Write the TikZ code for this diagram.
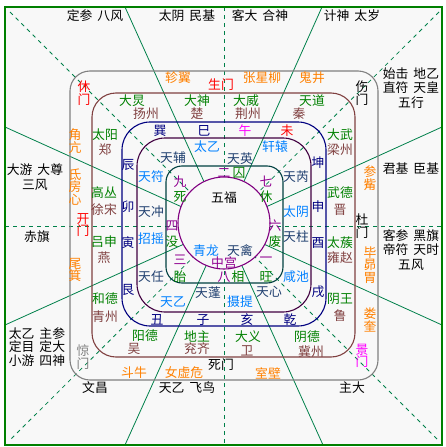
\documentclass[tikz,border=0pt]{standalone}
\usepackage{fontspec}
\setmainfont{Noto Sans CJK SC}
\definecolor{framegreen}{HTML}{008000}
\definecolor{raygreen}{HTML}{00804A}
\definecolor{ringgray}{HTML}{808080}
\definecolor{ringbrown}{HTML}{804040}
\definecolor{ringnavy}{HTML}{000080}
\definecolor{ringplum}{HTML}{400040}
\definecolor{ringteal}{HTML}{004040}
\definecolor{circplum}{HTML}{800080}
\definecolor{lodgeorange}{HTML}{FF8000}
\definecolor{godgreen}{HTML}{008000}
\definecolor{placebrown}{HTML}{804040}
\definecolor{stardark}{HTML}{1F3F6F}
\definecolor{starsky}{HTML}{0080FF}
\definecolor{numplum}{HTML}{900090}
\definecolor{gatemagenta}{HTML}{FF00FF}
\definecolor{gategray}{HTML}{808080}
\definecolor{bgpaper}{HTML}{F8F8F8}
\newcommand{\gap}{\hspace{5pt}}
\tikzset{
  ray/.style={raygreen, line width=0.8pt},
  axis/.style={raygreen, line width=0.8pt, dash pattern=on 4pt off 4pt},
  ring/.style={line width=1.1pt},
}
\begin{document}
\begin{tikzpicture}[x=1pt, y=-1pt,
    every node/.style={inner sep=0pt, font=\fontsize{12.8}{12.5}\selectfont, align=center}]
  \useasboundingbox (0,0) rectangle (445,447);
  \fill[white] (0,0) rectangle (445,447);
  \fill[bgpaper] (5,7) rectangle (442,445);
  % centre and frame points
  \coordinate (O) at (224,226);
  \coordinate (r1) at (125,7);
  \coordinate (r2) at (322,7);
  \coordinate (r3) at (442,127);
  \coordinate (r4) at (442,325);
  \coordinate (r5) at (323,445);
  \coordinate (r6) at (125,445);
  \coordinate (r7) at (5,325);
  \coordinate (r8) at (5,127);
  \coordinate (a1) at (224,7);
  \coordinate (a2) at (224,445);
  \coordinate (a3) at (5,226);
  \coordinate (a4) at (442,226);
  \coordinate (a5) at (10,12);
  \coordinate (a6) at (438,440);
  \coordinate (a7) at (439,12);
  \coordinate (a8) at (10,440);
  \foreach \e in {r1,r2,r3,r4,r5,r6,r7,r8}
    \draw[ray] (O) -- (\e);
  \foreach \s/\t in {a1/a2, a3/a4, a5/a6, a7/a8}
    \draw[axis] (\s) -- (\t);
  % rings
  \draw[ring, ringgray, rounded corners=20pt] (70,71) rectangle (378,380);
  \draw[ring, ringbrown, rounded corners=24pt] (92,93) rectangle (355,357);
  \draw[ring, ringnavy, rounded corners=28pt] (122,122) rectangle (326,326);
  \draw[ring, ringplum, rounded corners=28pt] (137,138) rectangle (311,312);
  \draw[ring, ringteal, rounded corners=16pt] (166,166) rectangle (283,283);
  \draw[ring, circplum, fill=bgpaper] (224,223) circle (46);
  \draw[framegreen, line width=2.5pt] (5,7) rectangle (442,445);
  % outer texts
  \foreach \nm/\x/\y/\t in {o1/95/16/{定参\gap{}八风}, o2/187/16/{太阴\gap{}民基},
      o3/260/16/{客大\gap{}合神}, o4/352/16/{计神\gap{}太岁},
      o5/411/88/{始击\gap{}地乙\\[2pt]直符\gap{}天皇\\[2pt]五行},
      o6/411/169/{君基\gap{}臣基},
      o7/411/250/{客参\gap{}黑旗\\[2pt]帝符\gap{}天时\\[2pt]五风},
      o8/352/388/{主大}, o9/187/388/{天乙\gap{}飞鸟}, o10/95/388/{文昌},
      o11/37/347/{太乙\gap{}主参\\[1pt]定目\gap{}定大\\[1pt]小游\gap{}四神},
      o12/37/237/{赤旗}, o13/35/177/{大游\gap{}大尊\\[2pt]三风}}
    \node (\nm) at (\x,\y) {\t};
  % gates
  \foreach \nm/\x/\y/\c/\t in {g1/84/93/red/{休\\门}, g2/221/85/red/{生门},
      g3/362/93/black/{伤\\门}, g4/362/226/black/{杜\\门},
      g5/362/356/gatemagenta/{景\\门}, g6/221/365/black/{死门},
      g7/83/357/gategray/{惊\\门}, g8/83/225/red/{开\\门}}
    \node[text=\c] (\nm) at (\x,\y) {\t};
  % lodges
  \foreach \nm/\x/\y/\t in {s1/178/78/{轸翼}, s2/262/78/{张星柳}, s3/312/78/{鬼井},
      s4/75/141/{角\\亢}, s5/75/187/{氐\\房\\心}, s6/75/270/{尾\\箕},
      s7/134/373/{斗牛}, s8/184/373/{女虚危}, s9/268/373/{室壁},
      s10/370/320/{娄\\奎}, s11/370/265/{毕\\昴\\胃}, s12/370/178/{参\\觜}}
    \node[text=lodgeorange] (\nm) at (\x,\y) {\t};
  % gods and lands
  \foreach \nm/\x/\y/\t in {d1/132/101/大炅, d2/197/101/大神, d3/246/101/大威,
      d4/312/101/天道, d5/340/135/大武, d6/340/193/武德, d7/340/243/太蔟,
      d8/340/299/阴王, d9/307/337/阴德, d10/248/337/大义, d11/197/336/地主,
      d12/145/336/阳德, d13/105/299/和德, d14/104/242/吕申, d15/104/193/高丛,
      d16/105/135/太阳}
    \node[text=godgreen] (\nm) at (\x,\y) {\t};
  \foreach \nm/\x/\y/\t in {p1/146/114/扬州, p2/197/114/楚, p3/248/114/荆州,
      p4/299/114/秦, p5/340/150/梁州, p6/340/210/晋, p7/340/258/雍赵,
      p8/340/316/鲁, p9/311/352/冀州, p10/247/351/卫, p11/197/349/兖齐,
      p12/134/349/吴, p13/105/317/青州, p14/104/258/燕, p15/104/210/徐宋,
      p16/105/150/郑}
    \node[text=placebrown] (\nm) at (\x,\y) {\t};
  % branches
  \foreach \nm/\x/\y/\c/\t in {b1/160/131/ringnavy/巽, b2/204/131/ringnavy/巳,
      b3/245/131/gatemagenta/午, b4/287/131/red/未,
      b5/318/163/ringnavy/坤, b6/318/207/ringnavy/申, b7/318/243/ringnavy/酉,
      b8/318/292/ringnavy/戌, b9/290/320/ringnavy/乾, b10/247/320/ringnavy/亥,
      b11/203/320/ringnavy/子, b12/157/320/ringnavy/丑, b13/128/290/ringnavy/艮,
      b14/128/243/ringnavy/寅, b15/128/207/ringnavy/卯, b16/128/165/ringnavy/辰}
    \node[text=\c] (\nm) at (\x,\y) {\t};
  % stars
  \foreach \nm/\x/\y/\c/\t in {t1/173/158/stardark/天辅, t2/207/147/starsky/太乙,
      t3/240/159/stardark/天英, t4/275/147/starsky/轩辕,
      t5/296/177/stardark/天芮, t6/296/212/starsky/太阴,
      t7/296/237/stardark/天柱, t8/296/277/starsky/咸池,
      t9/269/292/stardark/天心, t10/240/302/starsky/摄提,
      t11/208/293/stardark/天蓬, t12/173/302/starsky/天乙,
      t13/151/277/stardark/天任, t14/151/239/starsky/招摇,
      t15/151/212/stardark/天冲, t16/151/177/starsky/天符}
    \node[text=\c] (\nm) at (\x,\y) {\t};
  % palaces
  \foreach \nm/\x/\y/\t in {n1/180/182/九, n2/224/173/二, n3/266/182/七,
      n4/275/226/六, n5/266/260/一, n6/224/277/八, n7/180/260/三, n8/172/226/四}
    \node[text=numplum] (\nm) at (\x,\y) {\t};
  \foreach \nm/\x/\y/\t in {q1/180/197/死, q2/239/173/囚, q3/266/197/休,
      q4/275/242/废, q5/266/277/旺, q6/238/277/相, q7/180/277/胎, q8/172/242/没}
    \node[text=godgreen] (\nm) at (\x,\y) {\t};
  \node (wufu) at (224,198) {五福};
  \node[text=starsky] (qinglong) at (206,251) {青龙};
  \node[text=stardark] (tianqin) at (240,251) {天禽};
  \node[text=numplum] (zhonggong) at (224,263) {中宫};
\end{tikzpicture}
\end{document}
